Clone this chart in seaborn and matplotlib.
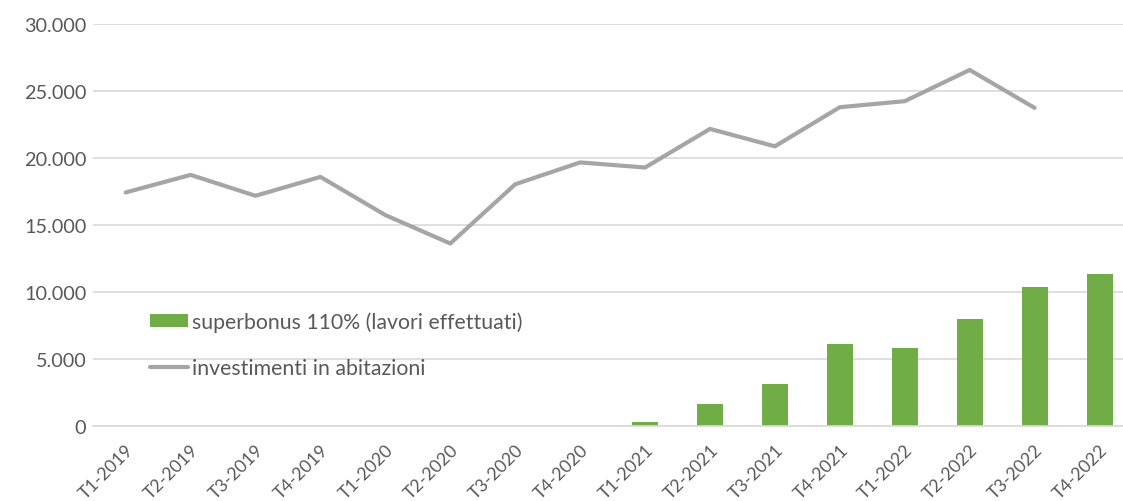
import matplotlib
matplotlib.use('Agg')

import matplotlib.pyplot as plt
import seaborn as sns
import numpy as np
import pandas as pd
from matplotlib.ticker import FuncFormatter
from matplotlib.patches import Patch
from matplotlib.lines import Line2D

# dati (milioni di euro, per trimestre)
trimestri = ['T1-2019', 'T2-2019', 'T3-2019', 'T4-2019',
             'T1-2020', 'T2-2020', 'T3-2020', 'T4-2020',
             'T1-2021', 'T2-2021', 'T3-2021', 'T4-2021',
             'T1-2022', 'T2-2022', 'T3-2022', 'T4-2022']
superbonus = [0, 0, 0, 0, 0, 0, 0, 0,
              350, 1670, 3170, 6100, 5830, 7980, 10420, 11370]
investimenti = [17440, 18750, 17190, 18600, 15750, 13630, 18050, 19680,
                19300, 22180, 20880, 23800, 24250, 26580, 23750, np.nan]

VERDE = '#70AD47'
GRIGIO = '#A5A5A5'
TESTO = '#595959'

sns.set_theme(style='white')
plt.rcParams['font.family'] = ['Lato', 'DejaVu Sans']

df = pd.DataFrame({'trimestre': trimestri,
                   'pos': np.arange(len(trimestri)),
                   'superbonus': superbonus,
                   'investimenti': investimenti})

fig = plt.figure(figsize=(11.23, 5.02), dpi=100)
ax = fig.add_axes([0.083, 0.149, 0.925, 0.801])

sns.barplot(data=df, x='trimestre', y='superbonus', color=VERDE,
            width=0.4, saturation=1, linewidth=0, ax=ax, zorder=2)
sns.lineplot(data=df, x='pos', y='investimenti', color=GRIGIO,
             linewidth=3.0, ax=ax, zorder=3)

ax.set_ylim(0, 30000)
ax.set_xlim(-0.5, 15.5)
ax.set_yticks(np.arange(0, 30001, 5000))
ax.yaxis.set_major_formatter(FuncFormatter(lambda v, p: f'{int(v):,}'.replace(',', '.')))
ax.grid(True, axis='y', color='#D9D9D9', linewidth=1.2, zorder=0)
ax.set_axisbelow(True)
ax.set_xlabel('')
ax.set_ylabel('')

for s in ['top', 'right', 'left']:
    ax.spines[s].set_visible(False)
ax.spines['bottom'].set_color('#D9D9D9')
ax.spines['bottom'].set_linewidth(1.2)

ax.set_xticks(np.arange(len(trimestri)))
ax.set_xticklabels(trimestri, rotation=45, ha='right', rotation_mode='anchor')
ax.tick_params(axis='x', colors=TESTO, labelsize=12.8, length=0, pad=11)
ax.tick_params(axis='y', colors=TESTO, labelsize=14.3, length=0, pad=5)

handles = [Patch(facecolor=VERDE, edgecolor='none'),
           Line2D([0], [0], color=GRIGIO, linewidth=3.0)]
labels = ['superbonus 110% (lavori effettuati)', 'investimenti in abitazioni']
leg = fig.legend(handles, labels, loc='upper left',
                 bbox_to_anchor=(0.134, 0.378), bbox_transform=fig.transFigure,
                 frameon=False, fontsize=15.3, handlelength=1.75, handleheight=0.55,
                 handletextpad=0.2, labelspacing=1.25, borderpad=0, borderaxespad=0)
for t in leg.get_texts():
    t.set_color(TESTO)

fig.savefig('out.png', dpi=100)
plt.close(fig)
